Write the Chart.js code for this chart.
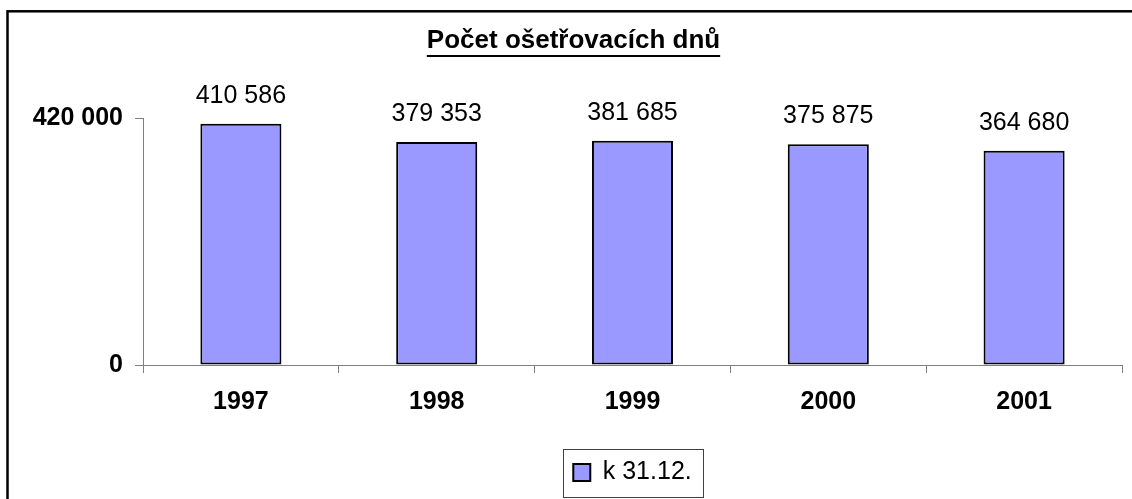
<!DOCTYPE html>
<html>
<head>
<meta charset="utf-8">
<script src="https://cdn.jsdelivr.net/npm/chart.js@4/dist/chart.umd.min.js"></script>
<style>
  html, body { margin: 0; padding: 0; background: #fff; }
  #wrap { width: 1132px; height: 499px; }
</style>
</head>
<body>
<div id="wrap"><canvas id="chart" width="1132" height="499"></canvas></div>
<script>
const years = ['1997', '1998', '1999', '2000', '2001'];
const days = [410586, 379353, 381685, 375875, 364680];
const yTicks = [0, 420000];
const seriesLabel = 'k 31.12.';
const chartTitle = 'Počet ošetřovacích dnů';

const FONT = "'Liberation Sans', Arial, sans-serif";

// thousands with a space, like "420 000"
function fmt(v) {
  return String(v).replace(/\B(?=(\d{3})+(?!\d))/g, ' ');
}

// outer frame, title underline, value labels and the legend box
const extras = {
  id: 'extras',
  beforeDraw(chart) {
    const ctx = chart.ctx;
    ctx.save();
    ctx.strokeStyle = '#000';
    ctx.lineWidth = 2.5;
    ctx.strokeRect(7.5, 11.3, 1140, 500);
    ctx.restore();
  },
  afterDatasetsDraw(chart) {
    const ctx = chart.ctx;
    const meta = chart.getDatasetMeta(0);
    ctx.save();
    ctx.font = '25px ' + FONT;
    ctx.fillStyle = '#000';
    ctx.textAlign = 'center';
    ctx.textBaseline = 'alphabetic';
    meta.data.forEach((bar, i) => {
      ctx.fillText(fmt(days[i]), bar.x, bar.y - 21);
    });
    ctx.restore();
  },
  afterDraw(chart) {
    const ctx = chart.ctx;
    ctx.save();
    // underline the title
    const tb = chart.titleBlock;
    ctx.font = 'bold 26px ' + FONT;
    const w = ctx.measureText(chartTitle).width;
    const cx = (tb.left + tb.right) / 2;
    ctx.strokeStyle = '#000';
    ctx.lineWidth = 2;
    ctx.beginPath();
    ctx.moveTo(cx - w / 2, 56);
    ctx.lineTo(cx + w / 2, 56);
    ctx.stroke();

    // frame around the legend
    const hb = chart.legend.legendHitBoxes[0];
    if (hb) {
      const cy = hb.top + hb.height / 2;
      ctx.strokeStyle = '#404040';
      ctx.lineWidth = 1;
      ctx.strokeRect(Math.round(hb.left - 10) + 0.5, Math.round(cy - 24) + 0.5, Math.round(hb.width + 22), 48);
    }
    ctx.restore();
  }
};

new Chart(document.getElementById('chart').getContext('2d'), {
  type: 'bar',
  data: {
    labels: years,
    datasets: [{
      label: seriesLabel,
      data: days,
      backgroundColor: '#9999FF',
      borderColor: '#000000',
      borderWidth: 2,
      borderSkipped: false,
      barPercentage: 0.414,
      categoryPercentage: 1
    }]
  },
  options: {
    responsive: false,
    animation: false,
    layout: {
      padding: { top: 0, left: 25, right: 10, bottom: 4 }
    },
    plugins: {
      title: {
        display: true,
        text: chartTitle,
        color: '#000',
        font: { family: FONT, size: 26, weight: 'bold' },
        padding: { top: 25, bottom: 62 }
      },
      legend: {
        display: true,
        position: 'bottom',
        fullSize: false,
        labels: {
          color: '#000',
          font: { family: FONT, size: 25 },
          boxWidth: 17,
          boxHeight: 17,
          padding: 10
        }
      },
      tooltip: { enabled: false }
    },
    scales: {
      x: {
        grid: {
          display: true,
          drawOnChartArea: false,
          drawTicks: true,
          tickLength: 8,
          color: '#808080'
        },
        border: { display: true, color: '#808080', width: 1 },
        ticks: {
          color: '#000',
          font: { family: FONT, size: 25, weight: 'bold' },
          padding: 14,
          maxRotation: 0
        },
        afterFit(scale) { scale.height = 85; }
      },
      y: {
        min: 0,
        max: 420000,
        afterBuildTicks(scale) {
          scale.ticks = yTicks.map(v => ({ value: v }));
        },
        grid: {
          display: true,
          drawOnChartArea: false,
          drawTicks: true,
          tickLength: 8,
          color: '#808080'
        },
        border: { display: true, color: '#808080', width: 1 },
        ticks: {
          color: '#000',
          font: { family: FONT, size: 25, weight: 'bold' },
          padding: 12,
          callback: v => fmt(v)
        },
        afterFit(scale) { scale.width = 118; }
      }
    }
  },
  plugins: [extras]
});
</script>
</body>
</html>
